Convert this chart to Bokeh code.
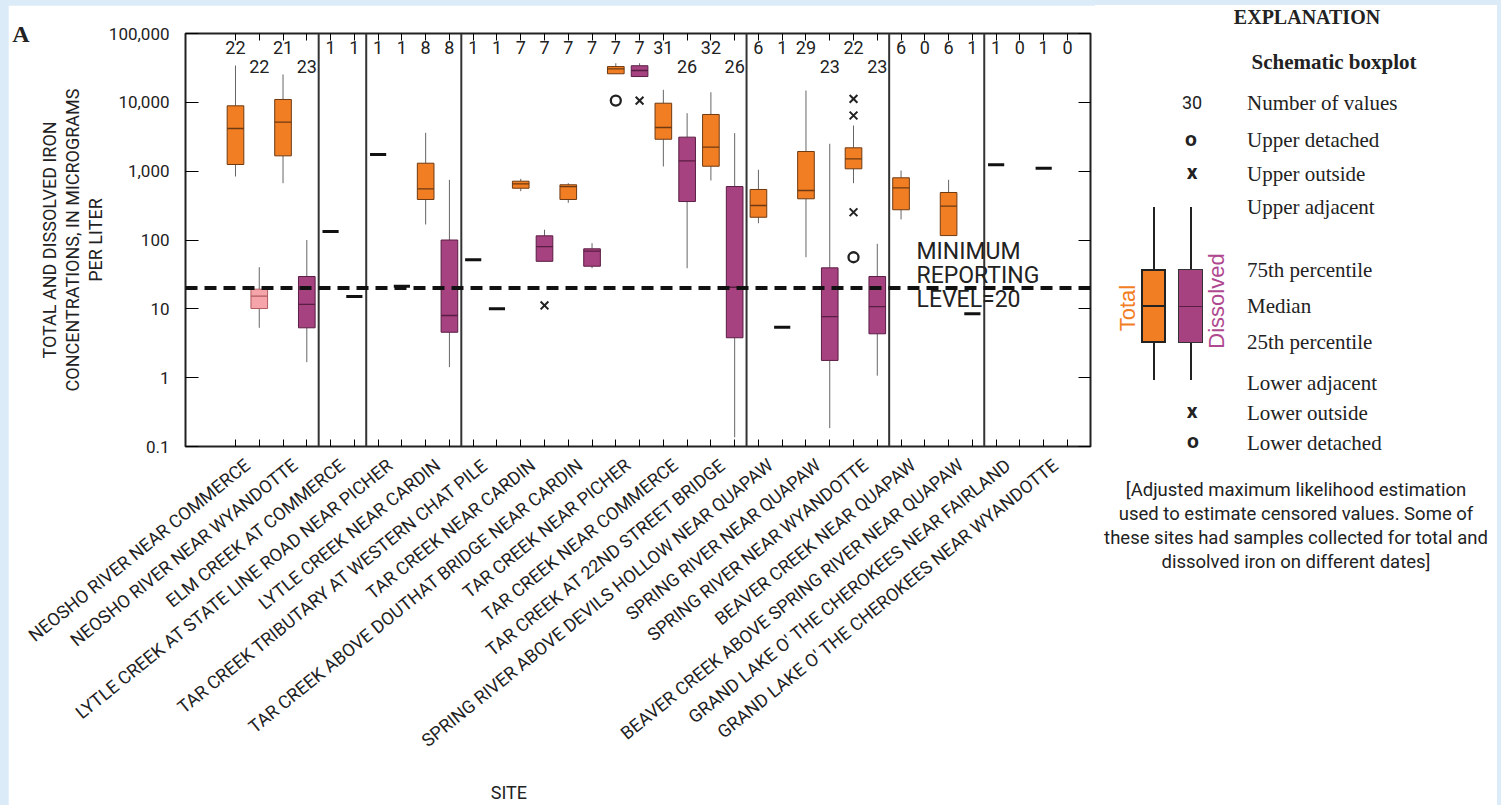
from bokeh.plotting import figure
from bokeh.models import (ColumnDataSource, FixedTicker, LinearAxis, LogAxis, Span, Label,
                          NumeralTickFormatter, Range1d, Div)
from bokeh.layouts import row
from bokeh.embed import file_html
from bokeh.resources import INLINE
from bokeh.core.properties import value

# ---------------- data ----------------
sites = [
    "NEOSHO RIVER NEAR COMMERCE",
    "NEOSHO RIVER NEAR WYANDOTTE",
    "ELM CREEK AT COMMERCE",
    "LYTLE CREEK AT STATE LINE ROAD NEAR PICHER",
    "LYTLE CREEK NEAR CARDIN",
    "TAR CREEK TRIBUTARY AT WESTERN CHAT PILE",
    "TAR CREEK NEAR CARDIN",
    "TAR CREEK ABOVE DOUTHAT BRIDGE NEAR CARDIN",
    "TAR CREEK NEAR PICHER",
    "TAR CREEK NEAR COMMERCE",
    "TAR CREEK AT 22ND STREET BRIDGE",
    "SPRING RIVER ABOVE DEVILS HOLLOW NEAR QUAPAW",
    "SPRING RIVER NEAR QUAPAW",
    "SPRING RIVER NEAR WYANDOTTE",
    "BEAVER CREEK NEAR QUAPAW",
    "BEAVER CREEK ABOVE SPRING RIVER NEAR QUAPAW",
    "GRAND LAKE O' THE CHEROKEES NEAR FAIRLAND",
    "GRAND LAKE O' THE CHEROKEES NEAR WYANDOTTE",
]
site_group = [0, 0, 1, 2, 2, 3, 3, 3, 3, 3, 3, 4, 4, 4, 5, 5, 6, 6]

total_n = [22, 21, 1, 1, 8, 1, 7, 7, 7, 31, 32, 6, 29, 22, 6, 6, 1, 1]
diss_n = [22, 23, 1, 1, 8, 1, 7, 7, 7, 26, 26, 1, 23, 23, 0, 1, 0, 0]

# schematic box statistics (None = no box)
total_low = [836, 668, None, None, 168, None, 512, 347, 26000, 1170, 732, 175, 56.2, 668, 199, 116, None, None]
total_q1 = [1250, 1670, None, None, 388, None, 565, 388, 26000, 2910, 1180, 214, 397, 1082, 275, 116, None, None]
total_med = [4170, 5150, None, None, 554, None, 655, 598, 30700, 4310, 2230, 317, 524, 1512, 573, 310, None, None]
total_q3 = [8900, 11000, None, None, 1305, None, 715, 634, 33100, 9710, 6660, 542, 1930, 2185, 801, 490, None, None]
total_high = [34300, 25400, None, None, 3610, None, 774, 668, 37000, 15200, 14000, 1047, 14860, 4600, 1022, 749, None, None]
total_single = [None, None, 133, 1750, None, 51.5, None, None, None, None, None, None, None, None, None, None, 1237, 1104]

diss_low = [5.3, 1.68, None, None, 1.42, None, 49, 38.9, 23700, 38.9, 0.136, None, 0.185, 1.07, None, None, None, None]
diss_q1 = [10.1, 5.3, None, None, 4.57, None, 49, 41.6, 23700, 362, 3.8, None, 1.78, 4.34, None, None, None, None]
diss_med = [15.3, 11.6, None, None, 8.0, None, 80, 68.7, 29000, 1415, 20.6, None, 7.73, 10.8, None, None, None, None]
diss_q3 = [19.3, 29.5, None, None, 100, None, 115, 74.5, 34000, 3120, 598, None, 39.4, 29.5, None, None, None, None]
diss_high = [40.3, 100, None, None, 749, None, 141, 89.9, 37000, 6950, 3570, None, 2500, 88, None, None, None, None]
diss_single = [None, None, 15.1, 21.3, None, 10.0, None, None, None, None, None, 5.4, None, None, None, 8.5, None, None]

# outliers
out_site = [8, 13, 13, 13, 13, 6, 8]
out_series = ["total", "total", "total", "total", "total", "dissolved", "dissolved"]
out_kind = ["detached", "outside", "outside", "outside", "detached", "outside", "outside"]
out_value = [10600, 11250, 6440, 253, 56.2, 11.2, 10600]

reporting_level = 20
decades = [0.1, 1, 10, 100, 1000, 10000, 100000]

y_title = "TOTAL AND DISSOLVED IRON\nCONCENTRATIONS, IN MICROGRAMS\nPER LITER"
x_title = "SITE"
explanation_items = ["Number of values", "Upper detached", "Upper outside", "Upper adjacent",
                     "75th percentile", "Median", "25th percentile", "Lower adjacent",
                     "Lower outside", "Lower detached"]
explanation_note = ["[Adjusted maximum likelihood estimation",
                    "used to estimate censored values. Some of",
                    "these sites had samples collected for total and",
                    "dissolved iron on different dates]"]

# ---------------- style / layout ----------------
SANS = "Roboto"
SERIF = "Liberation Serif"
INK = "#222222"
BLUE_BG = "#dcebf8"
ORANGE = "#f27e24"
ORANGE_LINE = "#6e3a12"
PURPLE = "#a6427f"
PURPLE_LINE = "#5a1d44"
PINK = "#f5a5aa"
PINK_LINE = "#b05a5e"
BOX_W = 0.7
special_fill = {("dissolved", 0): (PINK, PINK_LINE)}

OX, OY = 8, 5                          # page offset of the white sheet
DX = 1095                              # page x of the explanation
PW, H = DX - OX, 800                   # plot figure size
FL, FT, FR, FB = 185, 33, 1090, 446    # frame edges in page pixels
DW = 402                               # explanation width
SITE_TICK = 12                         # x position (slot units) of the "SITE" caption


def slot(site, series):
    return 2 * site + 0.5 + (0 if series == "total" else 1)


def hide_labels(ax):
    ax.major_label_text_color = None
    ax.major_label_text_font_size = "1px"
    ax.major_label_standoff = 0


p = figure(width=PW, height=H, x_range=Range1d(-1.603, 36.47), y_range=Range1d(0.1, 1e5),
           y_axis_type="log", output_backend="svg", toolbar_location=None,
           min_border_left=FL - OX, min_border_right=OX + PW - FR, min_border_top=FT - OY,
           min_border_bottom=OY + H - FB, title_location=None)
p.outline_line_color = INK
p.outline_line_width = 2
p.grid.visible = False
p.background_fill_color = "white"
p.border_fill_color = "white"

# ---- boxes
for series, lo, q1, med, q3, hi, fill, line in [
        ("total", total_low, total_q1, total_med, total_q3, total_high, ORANGE, ORANGE_LINE),
        ("dissolved", diss_low, diss_q1, diss_med, diss_q3, diss_high, PURPLE, PURPLE_LINE)]:
    d = dict(x=[], lo=[], q1=[], med=[], q3=[], hi=[], x0=[], x1=[], fill=[], line=[])
    for i in range(len(sites)):
        if q1[i] is None:
            continue
        xs = slot(i, series)
        f, l = special_fill.get((series, i), (fill, line))
        d["x"].append(xs); d["lo"].append(lo[i]); d["q1"].append(q1[i]); d["med"].append(med[i])
        d["q3"].append(q3[i]); d["hi"].append(hi[i]); d["x0"].append(xs - BOX_W / 2)
        d["x1"].append(xs + BOX_W / 2); d["fill"].append(f); d["line"].append(l)
    src = ColumnDataSource(d)
    p.segment(x0="x", y0="lo", x1="x", y1="q1", source=src, line_color="#666666", line_width=1)
    p.segment(x0="x", y0="q3", x1="x", y1="hi", source=src, line_color="#666666", line_width=1)
    p.vbar(x="x", width=BOX_W, bottom="q1", top="q3", source=src, fill_color="fill",
           line_color="line", line_width=1)
    p.segment(x0="x0", y0="med", x1="x1", y1="med", source=src, line_color="line", line_width=1.3)

# ---- single values
sx, sy = [], []
for series, single in [("total", total_single), ("dissolved", diss_single)]:
    for i, v in enumerate(single):
        if v is not None:
            sx.append(slot(i, series)); sy.append(v)
p.rect(x=sx, y=sy, width=0.68, height=3, height_units="screen", fill_color="#111111",
       line_color=None)

# ---- outliers
for kind, marker, sz, lw in [("outside", "x", 11, 2), ("detached", "circle", 10, 2.3)]:
    ox = [slot(s, se) for s, se, k in zip(out_site, out_series, out_kind) if k == kind]
    oy = [v for v, k in zip(out_value, out_kind) if k == kind]
    p.scatter(x=ox, y=oy, marker=marker, size=sz, line_width=lw, line_color=INK,
              fill_color="white")

# ---- counts (two-digit dissolved counts next to two-digit totals are staggered down)
cx, ct, coff = [], [], []
for i in range(len(sites)):
    cx.append(slot(i, "total")); ct.append(str(total_n[i])); coff.append(14)
    lower = total_n[i] >= 10 and diss_n[i] >= 10
    cx.append(slot(i, "dissolved")); ct.append(str(diss_n[i])); coff.append(33 if lower else 14)
p.text(x=cx, y=[1e5] * len(cx), text=ct, y_offset=coff, text_align="center",
       text_baseline="middle", text_font=value(SANS), text_font_size="18px", text_color=INK)

# ---- group separators and reporting level
for k in range(1, len(sites)):
    if site_group[k] != site_group[k - 1]:
        p.add_layout(Span(location=slot(k, "total") - 0.5, dimension="height",
                          line_color="#333333", line_width=2))
p.add_layout(Span(location=reporting_level, dimension="width", line_color="#111111",
                  line_width=4, line_dash="12 7"))
for t, py in zip(["MINIMUM", "REPORTING", "LEVEL=%d" % reporting_level], [251, 275, 299]):
    p.add_layout(Label(x=916 - FL, y=FB - py, x_units="screen", y_units="screen", text=t,
                       text_baseline="middle", text_font=SANS, text_font_size="23px",
                       text_color=INK))

# ---- axes
slot_ticks = [slot(i, s) for i in range(len(sites)) for s in ("total", "dissolved")]
xa = p.xaxis[0]
xa.ticker = FixedTicker(ticks=slot_ticks)
hide_labels(xa)
xa.major_tick_in = 7
xa.major_tick_out = 0
xa.axis_line_color = None
xa.minor_tick_line_color = None

lab_axis = LinearAxis(ticker=FixedTicker(ticks=[2 * i + 1 for i in range(len(sites))]),
                      major_label_overrides={2 * i + 1: s for i, s in enumerate(sites)},
                      major_label_orientation=0.68, major_label_text_font=SANS,
                      major_label_text_font_size="18px", major_label_text_color=INK,
                      major_label_standoff=10, axis_line_color=None, major_tick_line_color=None,
                      minor_tick_line_color=None)
p.add_layout(lab_axis, "below")

site_axis = LinearAxis(ticker=FixedTicker(ticks=[SITE_TICK]),
                       major_label_overrides={SITE_TICK: x_title}, major_label_text_font=SANS,
                       major_label_text_font_size="18px", major_label_text_color=INK,
                       major_label_standoff=14, axis_line_color=None,
                       major_tick_line_color=None, minor_tick_line_color=None)
p.add_layout(site_axis, "below")

top_axis = LinearAxis(ticker=FixedTicker(ticks=slot_ticks), major_tick_in=7, major_tick_out=0,
                      axis_line_color=None, minor_tick_line_color=None)
hide_labels(top_axis)
p.add_layout(top_axis, "above")

ya = p.yaxis[0]
ya.ticker = FixedTicker(ticks=decades)
ya.formatter = NumeralTickFormatter(format="0,0.[0]")
ya.major_tick_in = 13
ya.major_tick_out = 0
ya.minor_tick_line_color = None
ya.axis_line_color = None
ya.major_label_text_font = SANS
ya.major_label_text_font_size = "17px"
ya.major_label_text_color = INK
ya.major_label_standoff = 16
ya.axis_label = y_title
ya.axis_label_text_font = SANS
ya.axis_label_text_font_size = "18px"
ya.axis_label_text_font_style = "normal"
ya.axis_label_text_color = INK
ya.axis_label_text_line_height = 1.1
ya.axis_label_standoff = 0

right_axis = LogAxis(ticker=FixedTicker(ticks=decades), major_tick_in=12, major_tick_out=0,
                     axis_line_color=None, minor_tick_line_color=None)
hide_labels(right_axis)
p.add_layout(right_axis, "right")

panel_axis = LogAxis(ticker=FixedTicker(ticks=[100000]), major_label_overrides={100000: "A"},
                     major_label_text_font=SERIF, major_label_text_font_style="bold",
                     major_label_text_font_size="24px", major_label_text_color=INK,
                     major_label_standoff=0, major_tick_line_color=None, axis_line_color=None,
                     minor_tick_line_color=None)
p.add_layout(panel_axis, "left")

# ---------------- explanation (HTML, page-pixel layout) ----------------


def at(px, py, html, style, anchor="center", rotate=False):
    tx = "-50%" if anchor == "center" else "0"
    rot = " rotate(-90deg)" if rotate else ""
    return ('<div style="position:absolute;left:%.1fpx;top:%.1fpx;white-space:nowrap;'
            'line-height:1;transform:translate(%s,-50%%)%s;%s">%s</div>'
            % (px - DX, py - OY, tx, rot, style, html))


def rect(l, r, t, b, style):
    return ('<div style="position:absolute;box-sizing:border-box;left:%.1fpx;top:%.1fpx;'
            'width:%.1fpx;height:%.1fpx;%s"></div>' % (l - DX, t - OY, r - l, b - t, style))


serif = "font-family:'%s';color:%s;" % (SERIF, INK)
sans = "font-family:'%s';color:%s;" % (SANS, INK)
parts = [at(1307, 17, "EXPLANATION", serif + "font-weight:bold;font-size:20px;"),
         at(1334, 62, "Schematic boxplot", serif + "font-weight:bold;font-size:21px;")]
for t, py in zip(explanation_items, [103, 140, 174, 207, 270, 306, 342, 383, 413, 443]):
    parts.append(at(1247, py, t, serif + "font-size:21px;", anchor="left"))
parts.append(at(1192, 103, "30", sans + "font-size:18px;"))
for t, px, py in [("o", 1191, 139), ("x", 1192, 172), ("x", 1192, 411), ("o", 1193, 441)]:
    parts.append(at(px, py, t, sans + "font-weight:bold;font-size:21px;"))
parts += [rect(1153.3, 1154.8, 207, 380, "background:%s;" % INK),
          rect(1190.3, 1191.8, 207, 380, "background:%s;" % INK),
          rect(1141, 1166, 269, 343, "background:%s;border:2px solid %s;" % (ORANGE, INK)),
          rect(1178, 1203, 269, 343, "background:%s;border:1px solid #333;" % PURPLE),
          rect(1141, 1166, 305, 307, "background:%s;" % INK),
          rect(1179, 1202, 305.5, 306.5, "background:%s;" % PURPLE_LINE)]
parts.append(at(1128, 308, "Total", "font-family:'Liberation Sans';font-size:22px;color:%s;"
                % ORANGE, rotate=True))
parts.append(at(1217, 301, "Dissolved", "font-family:'Liberation Sans';font-size:22px;"
                "color:#b0488f;", rotate=True))
for t, py in zip(explanation_note, [490, 514, 538, 562]):
    parts.append(at(1296, py, t, sans + "font-size:18.5px;"))

explanation = Div(text='<div style="position:relative;width:%dpx;height:%dpx;background:white;'
                       'overflow:hidden;">%s</div>' % (DW, H, "".join(parts)),
                  width=DW, height=H, margin=0)

layout = row(p, explanation)
html = file_html(layout, INLINE)
html = html.replace("</head>",
                    "<style>html,body{margin:0 !important;padding:0 !important;"
                    "background:%s;overflow:hidden;}body{padding:%dpx 0 0 %dpx !important;}"
                    "</style></head>" % (BLUE_BG, OY, OX), 1)
open("out.html", "w").write(html)
